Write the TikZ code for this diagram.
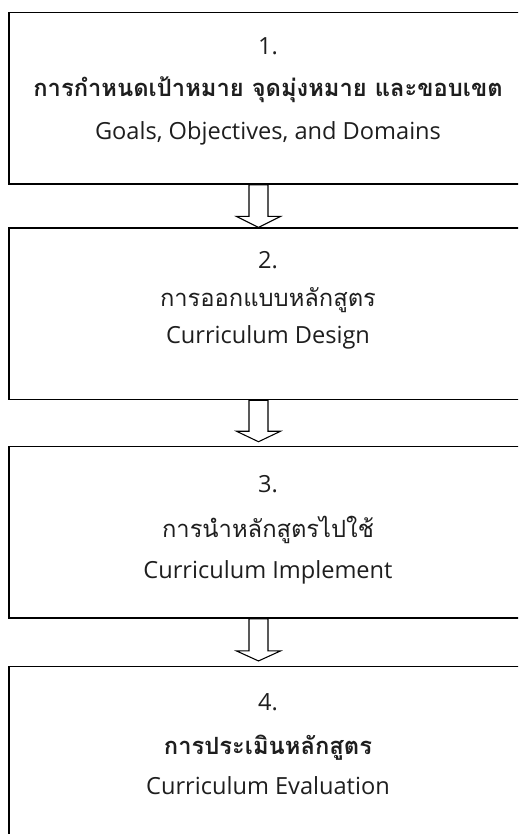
\documentclass[tikz,border=0pt]{standalone}
\usepackage{fontspec}
\setmainfont[Script=Thai]{Loma}
\newfontfamily\latinfont{Open Sans}
\definecolor{ink}{HTML}{1E1E1E}

\begin{document}
\begin{tikzpicture}[x=0.75pt, y=-0.75pt,
	box/.style={draw, line width=1.2pt, minimum width=388.5pt, minimum height=128.6pt, inner sep=0pt},
	txt/.style={anchor=base, inner sep=0pt, text=ink, font=\fontsize{17.8}{21}\selectfont},
	eng/.style={txt, font=\latinfont\fontsize{17.7}{21}\selectfont},
	blockarrow/.style={draw, line width=0.8pt, line join=miter}]

	\clip (0,0) rectangle (518,834);

	\node[box] (b1) at (268,98.4) {};
	\node[box] (b2) at (268,313.7) {};
	\node[box] (b3) at (268,532.4) {};
	\node[box] (b4) at (268,752.4) {};

	\node[eng] (n1) at (268,55) {1.};
	\node[txt] (h1) at (268,97) {\bfseries การกำหนดเป้าหมาย จุดมุ่งหมาย และขอบเขต};
	\node[eng] (e1) at (268,140) {Goals, Objectives, and Domains};

	\node[eng] (n2) at (268,268) {2.};
	\node[txt] (h2) at (268,306) {การออกแบบหลักสูตร};
	\node[eng] (e2) at (268,343) {Curriculum Design};

	\node[eng] (n3) at (268,492) {3.};
	\node[txt] (h3) at (268,537) {การนำหลักสูตรไปใช้};
	\node[eng] (e3) at (268,578) {Curriculum Implement};

	\node[eng] (n4) at (268,710) {4.};
	\node[txt] (h4) at (268,754) {\bfseries การประเมินหลักสูตร};
	\node[eng] (e4) at (268,794) {Curriculum Evaluation};

	\coordinate (ax) at (258.5,0);
	\draw[blockarrow] (b1.south -| ax) ++(-9.5,0) -- ++(0,31.5) -- ++(-12.5,0) -- ++(22,11) -- ++(22,-11) -- ++(-12.5,0) -- ++(0,-31.5) -- cycle;
	\draw[blockarrow] (b2.south -| ax) ++(-9.5,0) -- ++(0,31) -- ++(-12.5,0) -- ++(22,10.5) -- ++(22,-10.5) -- ++(-12.5,0) -- ++(0,-31) -- cycle;
	\draw[blockarrow] (b3.south -| ax) ++(-9.5,0) -- ++(0,32) -- ++(-12.5,0) -- ++(22,10) -- ++(22,-10) -- ++(-12.5,0) -- ++(0,-32) -- cycle;
\end{tikzpicture}
\end{document}
